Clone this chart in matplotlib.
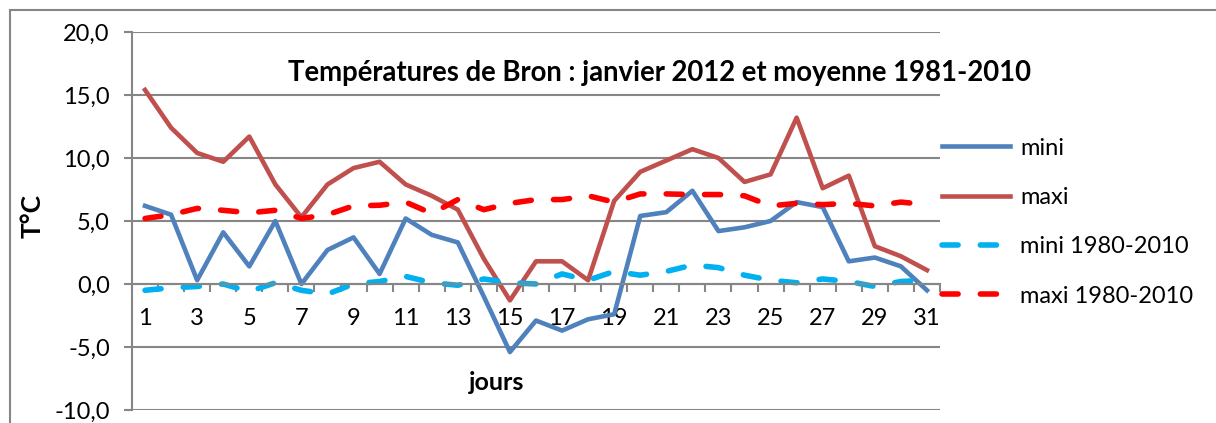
#!/usr/bin/env python

import matplotlib
matplotlib.use('Agg')
import matplotlib.pyplot as plt
from matplotlib.patches import Rectangle
from matplotlib.ticker import FuncFormatter

# Bron, janvier 2012
jours = list(range(1, 32))
mini = [6.2, 5.5, 0.3, 4.1, 1.4, 5.0, 0.0, 2.7, 3.7, 0.8,
        5.2, 3.9, 3.3, -1.0, -5.4, -2.9, -3.7, -2.8, -2.4, 5.4,
        5.7, 7.4, 4.2, 4.5, 5.0, 6.5, 6.1, 1.8, 2.1, 1.4, -0.5]
maxi = [15.4, 12.4, 10.4, 9.7, 11.7, 7.9, 5.3, 7.9, 9.2, 9.7,
        7.9, 7.0, 5.9, 2.0, -1.3, 1.8, 1.8, 0.3, 6.6, 8.9,
        9.8, 10.7, 10.0, 8.1, 8.7, 13.2, 7.6, 8.6, 3.0, 2.2, 1.1]
mini_norm = [-0.5, -0.3, -0.2, 0.0, -0.6, 0.1, -0.5, -0.8, 0.0, 0.2,
             0.6, 0.1, -0.1, 0.4, 0.1, 0.0, 0.8, 0.3, 1.0, 0.7,
             1.0, 1.5, 1.3, 0.7, 0.3, 0.1, 0.4, 0.2, -0.2, 0.2, 0.3]
maxi_norm = [5.2, 5.5, 6.0, 5.85, 5.65, 5.85, 5.2, 5.5, 6.2, 6.25,
             6.5, 5.6, 6.7, 5.9, 6.4, 6.7, 6.7, 7.0, 6.5, 7.15,
             7.15, 7.1, 7.1, 7.0, 6.2, 6.4, 6.3, 6.4, 6.2, 6.5, 6.3]

labels = ['mini', 'maxi', 'mini 1980-2010', 'maxi 1980-2010']
title = 'Températures de Bron : janvier 2012 et moyenne 1981-2010'

plt.rcParams['font.family'] = ['Lato', 'DejaVu Sans']
gray = '#868686'

fig = plt.figure(figsize=(12.16, 4.23), dpi=100)
ax = fig.add_axes([132 / 1216, 1 - 410 / 423, 808 / 1216, 378 / 423])

# outer chart frame (cut by the right and bottom edges)
fig.patches.append(Rectangle((10 / 1216, -0.1), 1.2, 1.1 - 10 / 423,
                             transform=fig.transFigure, fill=False,
                             edgecolor=gray, linewidth=1.5, zorder=0))

ax.plot(jours, mini, color='#4F81BD', linewidth=3.3,
        solid_joinstyle='round', label=labels[0])
ax.plot(jours, maxi, color='#C0504D', linewidth=3.3,
        solid_joinstyle='round', label=labels[1])
ax.plot(jours, mini_norm, color='#00B0F0', linewidth=4.0,
        dashes=(2.9, 4.0), dash_capstyle='round', label=labels[2])
ax.plot(jours, maxi_norm, color='#FF0000', linewidth=4.0,
        dashes=(2.9, 4.0), dash_capstyle='round', label=labels[3])

ax.set_xlim(0.5, 31.5)
ax.set_ylim(-10, 20)
ax.set_yticks(range(-10, 21, 5))
ax.yaxis.set_major_formatter(FuncFormatter(lambda v, p: ('%.1f' % v).replace('.', ',')))
ax.grid(True, axis='y', color=gray, linewidth=1.5)
ax.set_axisbelow(True)

for s in ['top', 'right']:
    ax.spines[s].set_visible(False)
ax.spines['left'].set_color(gray)
ax.spines['left'].set_linewidth(1.5)
ax.spines['bottom'].set_position(('data', 0))
ax.spines['bottom'].set_color(gray)
ax.spines['bottom'].set_linewidth(1.5)

# labels every 2 days, tick marks between the categories
ax.set_xticks(jours[::2])
ax.set_xticks([j + 0.5 for j in range(0, 32)], minor=True)
ax.tick_params(axis='x', which='major', length=0, pad=17, labelsize=17)
ax.tick_params(axis='x', which='minor', length=6, width=1.5, color=gray,
               direction='out')
ax.tick_params(axis='y', length=6, width=1.5, color=gray, pad=10,
               labelsize=17)

fig.text(659 / 1216, 1 - 73 / 423, title, fontsize=19.8, fontweight='bold',
         ha='center', va='center')
fig.text(33 / 1216, 1 - 216 / 423, 'T°C', fontsize=19, fontweight='bold',
         rotation=90, ha='center', va='center')
fig.text(497 / 1216, 1 - 382 / 423, 'jours', fontsize=18, fontweight='bold',
         ha='center', va='center')

ax.legend(loc='center left', bbox_to_anchor=(942 / 1216, 1 - 222 / 423),
          bbox_transform=fig.transFigure, frameon=False, fontsize=17,
          handlelength=2.9, handletextpad=0.4, labelspacing=1.2,
          borderpad=0, borderaxespad=0)

plt.savefig('out.png', dpi=100)
